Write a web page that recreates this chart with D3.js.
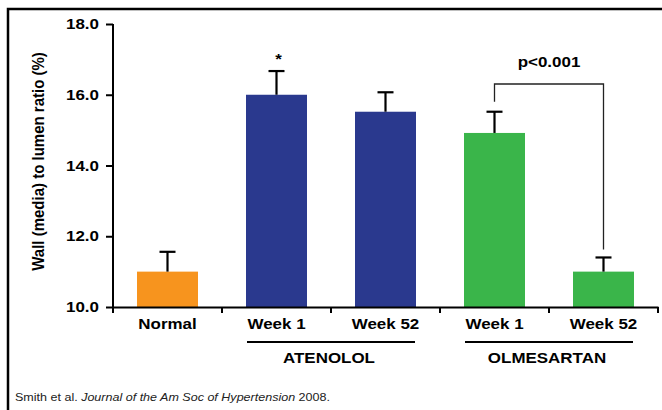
<!DOCTYPE html>
<html><head><meta charset="utf-8">
<script src="https://cdn.jsdelivr.net/npm/d3@7"></script>
<style>body{margin:0;background:#fff}svg{display:block;font-family:"Liberation Sans",Arial,sans-serif}</style>
</head><body><svg id="c" width="662" height="410"></svg>
<script>
const categories = ["Normal", "Week 1", "Week 52", "Week 1", "Week 52"];
const groupOf = ["Normal", "Atenolol", "Atenolol", "Olmesartan", "Olmesartan"];
const means = [11.0, 16.0, 15.52, 14.92, 11.0];
const errors = [0.56, 0.67, 0.55, 0.6, 0.4];
const yTicks = [10, 12, 14, 16, 18];
const groupLabels = ["ATENOLOL", "OLMESARTAN"];
const groupMembers = [[1, 2], [3, 4]];
const yTitle = "Wall (media) to lumen ratio (%)";
const pText = "p<0.001";
const footAuthor = "Smith et al. ";
const footJournal = "Journal of the Am Soc of Hypertension";
const footYear = " 2008.";

const colorFor = {Normal: "#F7941E", Atenolol: "#2A398E", Olmesartan: "#3AB54A"};
const SX = 1.13; // horizontal stretch of lettering in the original

const svg = d3.select("#c");
svg.append("rect").attr("x", 8).attr("y", 9).attr("width", 700).attr("height", 450)
  .attr("fill", "none").attr("stroke", "#000").attr("stroke-width", 2.5);

function label(x0, y0, str, anchor, size, weight) {
  return svg.append("text")
    .attr("transform", `translate(${x0},${y0}) scale(${SX},1)`)
    .attr("text-anchor", anchor).attr("font-size", size).attr("font-weight", weight || "bold")
    .attr("fill", "#000").text(str);
}

const idx = d3.range(categories.length);
const xb = d3.scaleBand().domain(idx).range([113, 658]);
const y = d3.scaleLinear().domain([10, 18]).range([307, 24]);
const cx = i => xb(i) + xb.bandwidth() / 2;

// bars
svg.append("g").selectAll("rect").data(idx).join("rect")
  .attr("x", i => cx(i) - 30.5)
  .attr("width", 61)
  .attr("y", i => y(means[i]))
  .attr("height", i => y(10) - y(means[i]))
  .attr("fill", i => colorFor[groupOf[i]]);

// error bars
const eb = svg.append("g").attr("stroke", "#000").attr("stroke-width", 2.2);
idx.forEach(i => {
  eb.append("line").attr("x1", cx(i)).attr("x2", cx(i)).attr("y1", y(means[i])).attr("y2", y(means[i] + errors[i]));
  eb.append("line").attr("x1", cx(i) - 8).attr("x2", cx(i) + 8).attr("y1", y(means[i] + errors[i])).attr("y2", y(means[i] + errors[i]));
});

// y axis
const yAxis = svg.append("g").attr("transform", "translate(113,0)")
  .call(d3.axisLeft(y).tickValues(yTicks).tickFormat("").tickSize(7));
yAxis.select(".domain").attr("d", `M0,${y(10)}V${y(18)}`).attr("stroke-width", 2);
yAxis.selectAll(".tick line").attr("stroke-width", 2);
yTicks.forEach(t => label(99, y(t) + 5, d3.format(".1f")(t), "end", 15));

// x axis
const xAxis = svg.append("g").attr("transform", `translate(0,${y(10)})`)
  .call(d3.axisBottom(xb).tickValues([]).tickSizeOuter(0));
xAxis.select(".domain").attr("stroke-width", 2);
const tickPos = d3.range(categories.length + 1).map(k => 113 + k * xb.step());
xAxis.selectAll(".xt").data(tickPos).join("line").attr("class", "xt")
  .attr("x1", d => d).attr("x2", d => d).attr("y1", 0).attr("y2", 6)
  .attr("stroke", "#000").attr("stroke-width", 2);

// category labels
idx.forEach(i => label(cx(i), 329, categories[i], "middle", 15));

// group lines and labels
groupMembers.forEach((m, g) => {
  const gx = (cx(m[0]) + cx(m[1])) / 2;
  svg.append("line").attr("x1", gx - 84).attr("x2", gx + 84).attr("y1", 342).attr("y2", 342)
    .attr("stroke", "#000").attr("stroke-width", 2);
  label(gx - 2, 363, groupLabels[g], "middle", 15);
});

// y title
svg.append("text").attr("transform", `translate(44,${(y(10) + y(18)) / 2 - 4}) rotate(-90) scale(1,${SX})`)
  .attr("text-anchor", "middle").attr("font-size", 15).attr("font-weight", "bold").text(yTitle);

// asterisk
label(cx(1) + 2, 64, "*", "middle", 15);

// significance bracket
const c3 = cx(3), c4 = cx(4);
const by = 84;
svg.append("path")
  .attr("d", `M${c3},${y(means[3] + errors[3]) - 10}V${by}H${c4}V${y(means[4] + errors[4]) - 8}`)
  .attr("fill", "none").attr("stroke", "#222").attr("stroke-width", 1.3);
label((c3 + c4) / 2, 67, pText, "middle", 15);

// footnote
const ft = svg.append("text").attr("transform", `translate(15,401) scale(${SX},1)`)
  .attr("font-size", 11.1).attr("fill", "#222");
ft.append("tspan").text(footAuthor);
ft.append("tspan").attr("font-style", "italic").text(footJournal);
ft.append("tspan").text(footYear);
</script></body></html>
